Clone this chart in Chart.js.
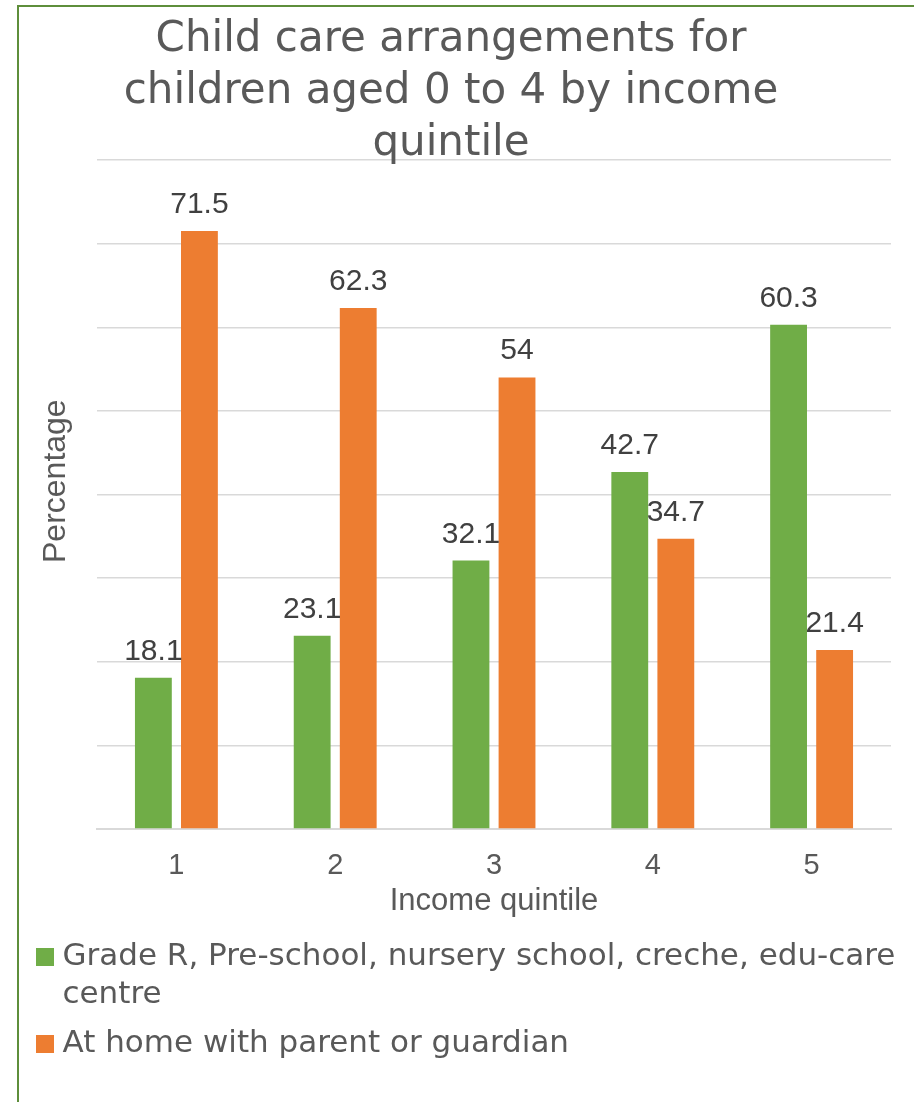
<!DOCTYPE html>
<html>
<head>
<meta charset="utf-8">
<script src="https://cdn.jsdelivr.net/npm/chart.js@4.4.1/dist/chart.umd.min.js"></script>
<style>
  html, body { margin: 0; padding: 0; background: #fff; }
  #wrap { position: relative; width: 914px; height: 1102px; overflow: hidden; }
  #frame { position: absolute; left: 17px; top: 5px; width: 1000px; height: 1200px;
           border-left: 2px solid #5E8E3B; border-top: 2px solid #5E8E3B; }
  canvas { position: absolute; left: 0; top: 0; }
</style>
</head>
<body>
<div id="wrap">
  <div id="frame"></div>
  <canvas id="my-chart" width="914" height="1102"></canvas>
</div>
<script>
// data
const quintiles = ["1", "2", "3", "4", "5"];
const preschool = [18.1, 23.1, 32.1, 42.7, 60.3];
const atHome = [71.5, 62.3, 54, 34.7, 21.4];
const seriesNames = ["Grade R, Pre-school, nursery school, creche, edu-care centre",
                     "At home with parent or guardian"];
const legendLines = [["Grade R, Pre-school, nursery school, creche, edu-care", "centre"],
                     "At home with parent or guardian"];
const titleLines = ["Child care arrangements for", "children aged 0 to 4 by income", "quintile"];

const grey = "#595959";
const arial = '"Liberation Sans", Arial, sans-serif';
const gothic = '"DejaVu Sans", sans-serif';

// numbers above the bars
const valueLabels = {
  id: "valueLabels",
  afterDatasetsDraw(chart) {
    const ctx = chart.ctx;
    ctx.save();
    ctx.font = "30px " + arial;
    ctx.fillStyle = "#404040";
    ctx.textAlign = "center";
    ctx.textBaseline = "alphabetic";
    chart.data.datasets.forEach((ds, i) => {
      chart.getDatasetMeta(i).data.forEach((bar, j) => {
        ctx.fillText(String(ds.data[j]), bar.x, bar.y - 18);
      });
    });
    ctx.restore();
  }
};

new Chart(document.getElementById("my-chart"), {
  type: "bar",
  data: {
    labels: quintiles,
    datasets: [{
      label: seriesNames[0],
      data: preschool,
      backgroundColor: "#70AD47",
      borderWidth: 0
    }, {
      label: seriesNames[1],
      data: atHome,
      backgroundColor: "#ED7D31",
      borderWidth: 0
    }]
  },
  options: {
    responsive: false,
    animation: false,
    categoryPercentage: 0.58,
    barPercentage: 0.8,
    layout: { padding: { left: -13, right: -1, top: 0, bottom: 32.5 } },
    plugins: {
      tooltip: { enabled: false },
      title: {
        display: true,
        text: titleLines,
        color: grey,
        font: { family: gothic, size: 42, weight: "normal", lineHeight: 52 / 42 },
        padding: { top: 14, bottom: -10 }
      },
      legend: {
        position: "bottom",
        align: "start",
        labels: {
          color: grey,
          font: { family: gothic, size: 31, lineHeight: 38 / 31 },
          boxWidth: 4,
          boxHeight: 4,
          padding: 56,
          generateLabels(chart) {
            const items = Chart.defaults.plugins.legend.labels.generateLabels(chart);
            items.forEach((it, i) => {
              it.text = legendLines[i];
              it.strokeStyle = it.fillStyle;
              it.lineWidth = 14;
              it.lineJoin = "miter";
            });
            return items;
          }
        }
      }
    },
    scales: {
      x: {
        grid: { display: false, drawTicks: false },
        border: { color: "#D9D9D9", width: 2 },
        ticks: { color: grey, font: { family: arial, size: 29 }, padding: 20 },
        title: {
          display: true,
          text: "Income quintile",
          color: grey,
          font: { family: arial, size: 31 },
          padding: { top: -21.4, bottom: -34.1 }
        }
      },
      y: {
        min: 0,
        max: 80,
        ticks: { display: false, stepSize: 10 },
        grid: { color: "#D9D9D9", lineWidth: 1.5, drawTicks: false },
        border: { display: false },
        title: {
          display: true,
          text: "   Percentage",
          color: grey,
          font: { family: arial, size: 32 },
          padding: { top: 49.8, bottom: 0 }
        },
        afterFit(axis) { axis.width = 110; }
      },
      yRight: {
        position: "right",
        display: true,
        ticks: { display: false },
        grid: { display: false, drawTicks: false },
        border: { display: false },
        afterFit(axis) { axis.width = 24; }
      }
    }
  },
  plugins: [valueLabels]
});
</script>
</body>
</html>
